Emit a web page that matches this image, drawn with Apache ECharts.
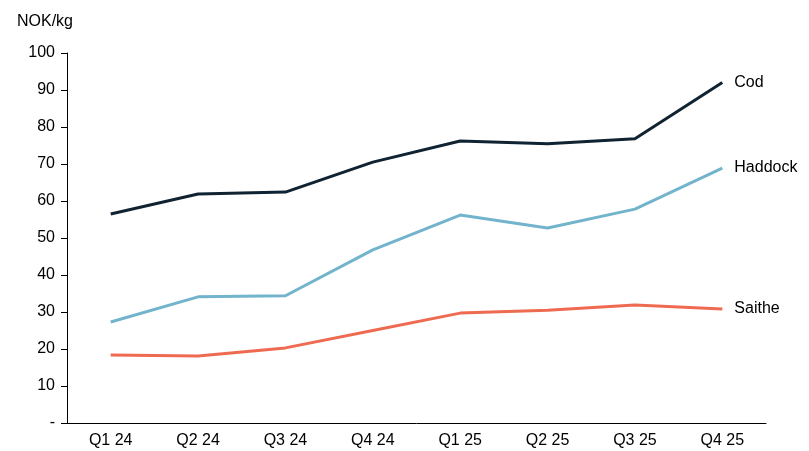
<!DOCTYPE html>
<html>
<head>
<meta charset="utf-8">
<script src="https://cdn.jsdelivr.net/npm/echarts@6/dist/echarts.min.js"></script>
<style>
  html, body { margin: 0; padding: 0; background: #fff; }
  #chart { width: 809px; height: 451px; }
</style>
</head>
<body>
<div id="chart"></div>
<script>
// kvartaler
const quarters = ['Q1 24', 'Q2 24', 'Q3 24', 'Q4 24', 'Q1 25', 'Q2 25', 'Q3 25', 'Q4 25'];
// NOK/kg
const cod = [56.5, 61.9, 62.4, 70.5, 76.2, 75.5, 76.8, 92.0];
const haddock = [27.3, 34.1, 34.4, 46.8, 56.2, 52.7, 57.8, 68.9];
const saithe = [18.4, 18.1, 20.3, 25.0, 29.7, 30.5, 31.9, 30.8];

const font = 'Arial, "Liberation Sans", sans-serif';

function line(name, data, color) {
    return {
        name: name,
        type: 'line',
        data: data,
        symbol: 'none',
        lineStyle: { color: color, width: 3 },
        itemStyle: { color: color },
        endLabel: {
            show: true,
            formatter: name,
            color: '#000',
            fontSize: 16,
            fontFamily: font,
            distance: 12
        }
    }
}

const chart = echarts.init(document.getElementById('chart'));
chart.setOption({
    animation: false,
    title: {
        text: 'NOK/kg',
        left: 12,
        top: 9,
        textStyle: { fontSize: 16, fontWeight: 'normal', color: '#000', fontFamily: font }
    },
    grid: { left: 67, right: 43, top: 53, bottom: 28 },
    xAxis: {
        type: 'category',
        data: quarters,
        boundaryGap: true,
        axisLine: { lineStyle: { color: '#000', width: 1 } },
        axisTick: { show: false },
        axisLabel: { color: '#000', fontSize: 16, fontFamily: font, margin: 10 }
    },
    yAxis: {
        type: 'value',
        min: 0,
        max: 100,
        interval: 10,
        axisLine: { show: true, lineStyle: { color: '#000', width: 1 } },
        axisTick: { show: true, length: 6, lineStyle: { color: '#000' } },
        splitLine: { show: false },
        axisLabel: {
            color: '#000',
            fontSize: 16,
            fontFamily: font,
            margin: 12,
            formatter: v => v === 0 ? '-' : v
        }
    },
    series: [
        line('Cod', cod, '#0f2332'),
        line('Haddock', haddock, '#72b4cc'),
        line('Saithe', saithe, '#ee6a50')
    ]
});
</script>
</body>
</html>
